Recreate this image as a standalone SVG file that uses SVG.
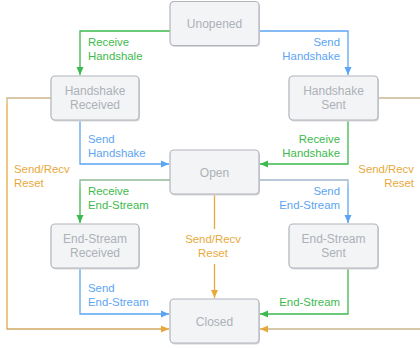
<svg xmlns="http://www.w3.org/2000/svg" width="420" height="348" viewBox="0 0 420 348">
<style>
.node rect{fill:#f3f4f6;stroke:#b1b4bb;stroke-width:1.2}
.node rect.sh{fill:#d6d8dc;stroke:none}
.node text{font-family:"Liberation Sans",Arial,sans-serif;font-size:12px;fill:#adb1b8;text-anchor:middle}
.edge{fill:none;stroke-width:1.3}
.lbl{font-family:"Liberation Sans",Arial,sans-serif;font-size:11.4px}
.g{fill:#3dba4c}.b{fill:#5ca5f2}.o{fill:#e8a93c}
.end{text-anchor:end}.mid{text-anchor:middle}
</style>
<defs>
<marker id="ag" markerUnits="userSpaceOnUse" markerWidth="9" markerHeight="8" refX="8" refY="4" orient="auto"><path d="M0,0.5 L8,4 L0,7.5 z" fill="#3dba4c"/></marker>
<marker id="ab" markerUnits="userSpaceOnUse" markerWidth="9" markerHeight="8" refX="8" refY="4" orient="auto"><path d="M0,0.5 L8,4 L0,7.5 z" fill="#5ca5f2"/></marker>
<marker id="ao" markerUnits="userSpaceOnUse" markerWidth="9" markerHeight="8" refX="8" refY="4" orient="auto"><path d="M0,0.5 L8,4 L0,7.5 z" fill="#e8a93c"/></marker>
<linearGradient id="gESR" gradientUnits="userSpaceOnUse" x1="0" y1="180" x2="0" y2="190"><stop offset="0" stop-color="#93b897"/><stop offset="1" stop-color="#3dba4c"/></linearGradient>
<linearGradient id="gESS" gradientUnits="userSpaceOnUse" x1="0" y1="180" x2="0" y2="190"><stop offset="0" stop-color="#a3b6cc"/><stop offset="1" stop-color="#5ca5f2"/></linearGradient>
<linearGradient id="gRL" gradientUnits="userSpaceOnUse" x1="0" y1="98" x2="0" y2="329"><stop offset="0" stop-color="#c9b68c"/><stop offset="0.04" stop-color="#e8a93c"/><stop offset="0.96" stop-color="#e8a93c"/><stop offset="1" stop-color="#cfa863"/></linearGradient>
</defs>

<g id="connectors">
<path class="edge" d="M170,31 H80 V75" stroke="#3dba4c" marker-end="url(#ag)"/>
<path class="edge" d="M259,31 H348 V75" stroke="#5ca5f2" marker-end="url(#ab)"/>
<path class="edge" d="M80,120 V164 H169" stroke="#5ca5f2" marker-end="url(#ab)"/>
<path class="edge" d="M348,120 V164 H260" stroke="#3dba4c" marker-end="url(#ag)"/>
<path class="edge" d="M170,180 H80 V223" stroke="url(#gESR)" marker-end="url(#ag)"/>
<path class="edge" d="M259,180 H348 V223" stroke="url(#gESS)" marker-end="url(#ab)"/>
<path class="edge" d="M80,268 V314 H169" stroke="#5ca5f2" marker-end="url(#ab)"/>
<path class="edge" d="M348,268 V314 H260" stroke="#3dba4c" marker-end="url(#ag)"/>
<path class="edge" d="M214.5,194 V298" stroke="#e8a93c" marker-end="url(#ao)"/>
<path class="edge" d="M51,98 H7 V329 H169" stroke="url(#gRL)" marker-end="url(#ao)"/>
<path class="edge" d="M378,98 H430 V329 H260" stroke="#c9b68c" marker-end="url(#ao)"/>
</g>

<g id="labels">
<text class="lbl g" x="88" y="46">Receive</text>
<text class="lbl g" x="88" y="59.5">Handshale</text>
<text class="lbl b end" x="340" y="46">Send</text>
<text class="lbl b end" x="340" y="59.5">Handshake</text>
<text class="lbl b" x="88" y="142.5">Send</text>
<text class="lbl b" x="88" y="156.5">Handshake</text>
<text class="lbl g end" x="340" y="142.5">Receive</text>
<text class="lbl g end" x="340" y="156.5">Handshake</text>
<text class="lbl g" x="88" y="194.5">Receive</text>
<text class="lbl g" x="88" y="208.5">End-Stream</text>
<text class="lbl b end" x="340" y="194.5">Send</text>
<text class="lbl b end" x="340" y="208.5">End-Stream</text>
<text class="lbl b" x="88" y="292">Send</text>
<text class="lbl b" x="88" y="306">End-Stream</text>
<text class="lbl g end" x="340" y="306">End-Stream</text>
<text class="lbl o" x="14" y="172.5">Send/Recv</text>
<text class="lbl o" x="14" y="186.5">Reset</text>
<text class="lbl o end" x="414" y="172.5">Send/Recv</text>
<text class="lbl o end" x="414" y="186.5">Reset</text>
<rect x="180" y="229" width="68" height="35" fill="#ffffff"/>
<text class="lbl o mid" x="213" y="243">Send/Recv</text>
<text class="lbl o mid" x="213" y="257">Reset</text>
</g>

<g id="unopened" class="node"><rect class="sh" x="171" y="3" width="89" height="44" rx="4"/><rect x="170" y="1.5" width="89" height="44" rx="4"/><text x="214.5" y="27.5">Unopened</text></g>
<g id="handshake-received" class="node"><rect class="sh" x="52" y="77.5" width="88" height="44" rx="4"/><rect x="51" y="76" width="88" height="44" rx="4"/><text x="95" y="94.5">Handshake</text><text x="95" y="109">Received</text></g>
<g id="handshake-sent" class="node"><rect class="sh" x="290" y="77.5" width="89" height="44" rx="4"/><rect x="289" y="76" width="89" height="44" rx="4"/><text x="333.5" y="94.5">Handshake</text><text x="333.5" y="109">Sent</text></g>
<g id="open" class="node"><rect class="sh" x="171" y="151.5" width="89" height="44" rx="4"/><rect x="170" y="150" width="89" height="44" rx="4"/><text x="214.5" y="176.5">Open</text></g>
<g id="end-stream-received" class="node"><rect class="sh" x="52" y="225.5" width="88" height="44" rx="4"/><rect x="51" y="224" width="88" height="44" rx="4"/><text x="95" y="242.5">End-Stream</text><text x="95" y="257">Received</text></g>
<g id="end-stream-sent" class="node"><rect class="sh" x="290" y="225.5" width="89" height="44" rx="4"/><rect x="289" y="224" width="89" height="44" rx="4"/><text x="333.5" y="242.5">End-Stream</text><text x="333.5" y="257">Sent</text></g>
<g id="closed" class="node"><rect class="sh" x="171" y="300.5" width="89" height="44" rx="4"/><rect x="170" y="299" width="89" height="44" rx="4"/><text x="214.5" y="325.5">Closed</text></g>
</svg>
